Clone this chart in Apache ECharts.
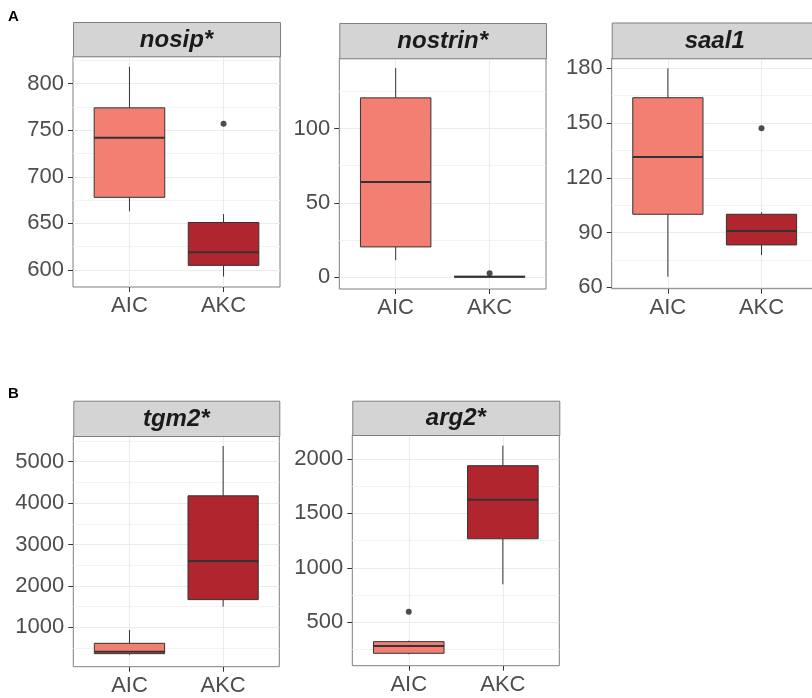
<!DOCTYPE html>
<html>
<head>
<meta charset="utf-8">
<script src="https://cdn.jsdelivr.net/npm/echarts@6/dist/echarts.min.js"></script>
<style>html,body{margin:0;padding:0;background:#fff}#c{width:812px;height:698px}</style>
</head>
<body>
<div id="c"></div>
<script>
// ---------- data ----------
const categories = ['AIC', 'AKC'];
const genes = ['nosip*', 'nostrin*', 'saal1', 'tgm2*', 'arg2*'];
// box stats: [lower whisker, Q1, median, Q3, upper whisker]
const nosipAIC = [663, 678, 742, 774, 818];
const nosipAKC = [593, 605, 619, 651, 660];
const nosipOutliers = [[2, 757]];
const nostrinAIC = [11.5, 20.4, 64.1, 120.6, 140.7];
const nostrinAKC = [0, 0.1, 0.3, 0.6, 0.9];
const nostrinOutliers = [[2, 2.7]];
const saal1AIC = [65.8, 100, 131.4, 163.9, 180];
const saal1AKC = [77.7, 83.2, 90.8, 100, 101.1];
const saal1Outliers = [[2, 147.1]];
const tgm2AIC = [335, 363, 411, 613, 935];
const tgm2AKC = [1498, 1668, 2600, 4176, 5379];
const tgm2Outliers = [];
const arg2AIC = [206, 215, 282, 322, 331];
const arg2AKC = [848, 1267, 1625, 1938, 2122];
const arg2Outliers = [[1, 597]];
// axis ranges and tick labels
const nosipRange = [581.8, 829.3];
const nosipTicks = [600, 650, 700, 750, 800];
const nosipMinor = [625, 675, 725, 775, 825];
const nostrinRange = [-7.9, 147.2];
const nostrinTicks = [0, 50, 100];
const nostrinMinor = [25, 75, 125];
const saal1Range = [59.2, 185.5];
const saal1Ticks = [60, 90, 120, 150, 180];
const saal1Minor = [75, 105, 135, 165];
const tgm2Range = [48, 5621];
const tgm2Ticks = [1000, 2000, 3000, 4000, 5000];
const tgm2Minor = [500, 1500, 2500, 3500, 4500, 5500];
const arg2Range = [101, 2220];
const arg2Ticks = [500, 1000, 1500, 2000];
const arg2Minor = [250, 750, 1250, 1750];

const groupColors = ['#F27F72', '#B0252E'];

// ---------- layout (styling only) ----------
const layout = [
  {left: 73, top: 56.3, width: 207, height: 230.7, stripTop: 22},
  {left: 339.3, top: 58.3, width: 206.7, height: 230.7, stripTop: 23},
  {left: 611.7, top: 58.3, width: 206, height: 230.4, stripTop: 22.5},
  {left: 73.3, top: 436, width: 206, height: 230.7, stripTop: 400.7},
  {left: 352.3, top: 435, width: 207, height: 230.7, stripTop: 400.7}
];

const panels = [
  {boxes: [nosipAIC, nosipAKC], out: nosipOutliers, range: nosipRange, ticks: nosipTicks, minor: nosipMinor},
  {boxes: [nostrinAIC, nostrinAKC], out: nostrinOutliers, range: nostrinRange, ticks: nostrinTicks, minor: nostrinMinor},
  {boxes: [saal1AIC, saal1AKC], out: saal1Outliers, range: saal1Range, ticks: saal1Ticks, minor: saal1Minor},
  {boxes: [tgm2AIC, tgm2AKC], out: tgm2Outliers, range: tgm2Range, ticks: tgm2Ticks, minor: tgm2Minor},
  {boxes: [arg2AIC, arg2AKC], out: arg2Outliers, range: arg2Range, ticks: arg2Ticks, minor: arg2Minor}
];

const FONT = '"Liberation Sans", Arial, sans-serif';
const grid = [], xAxis = [], yAxis = [], series = [], graphic = [];

panels.forEach((p, i) => {
  const L = layout[i];
  grid.push({left: L.left, top: L.top, width: L.width, height: L.height, show: true,
    backgroundColor: '#fff', borderColor: '#7f7f7f', borderWidth: 1, outerBoundsMode: 'none', containLabel: false, z: 0});
  const catPos = categories.map((c, k) => k + 1);
  xAxis.push({type: 'value', gridIndex: i, min: 0.4, max: 2.6,
    axisLine: {show: false, onZero: false},
    axisTick: {show: true, length: 5, customValues: catPos, lineStyle: {color: '#333'}},
    axisLabel: {show: true, customValues: catPos, margin: 8, fontSize: 22, fontFamily: FONT, color: '#4d4d4d',
      formatter: v => categories[Math.round(v) - 1] || ''},
    splitLine: {show: true, lineStyle: {color: '#ebebeb', width: 1}}
  });
  yAxis.push({type: 'value', gridIndex: i, min: p.range[0], max: p.range[1],
    axisLine: {show: false, onZero: false},
    axisTick: {show: true, length: 5, customValues: p.ticks, lineStyle: {color: '#333'}},
    axisLabel: {show: true, customValues: p.ticks, margin: 9, fontSize: 22, fontFamily: FONT, color: '#4d4d4d',
      formatter: v => String(v)},
    splitLine: {show: true, lineStyle: {color: '#ebebeb', width: 1}}
  });
  yAxis.push({type: 'value', gridIndex: i, min: p.range[0], max: p.range[1],
    axisLine: {show: false, onZero: false},
    axisTick: {show: false, customValues: p.minor},
    axisLabel: {show: false, customValues: p.minor},
    splitLine: {show: true, lineStyle: {color: '#f3f3f3', width: 1}}
  });
  series.push({
    type: 'custom', xAxisIndex: i, yAxisIndex: 2 * i, z: 5,
    data: p.boxes.map((b, k) => [k + 1].concat(b)),
    encode: {x: 0, y: [1, 2, 3, 4, 5]},
    renderItem: function (params, api) {
      const x = api.value(0);
      const vals = [1, 2, 3, 4, 5].map(d => api.value(d));
      const half = api.size([0.75, 0])[0] / 2;
      const pt = vals.map(v => api.coord([x, v]));
      const cx = pt[0][0];
      const color = groupColors[params.dataIndex];
      return {type: 'group', children: [
        {type: 'line', shape: {x1: cx, y1: pt[0][1], x2: cx, y2: pt[1][1]}, style: {stroke: '#333', lineWidth: 1}},
        {type: 'line', shape: {x1: cx, y1: pt[3][1], x2: cx, y2: pt[4][1]}, style: {stroke: '#333', lineWidth: 1}},
        {type: 'rect', shape: {x: cx - half, y: pt[3][1], width: 2 * half, height: pt[1][1] - pt[3][1]},
          style: {fill: color, stroke: '#333', lineWidth: 1}},
        {type: 'line', shape: {x1: cx - half, y1: pt[2][1], x2: cx + half, y2: pt[2][1]}, style: {stroke: '#333', lineWidth: 2}}
      ]};
    }
  });
  series.push({type: 'scatter', xAxisIndex: i, yAxisIndex: 2 * i, z: 6, data: p.out,
    symbolSize: 6, itemStyle: {color: '#222'}, silent: true});
  // strip
  const stripH = L.top - L.stripTop;
  graphic.push({type: 'rect', left: L.left, top: L.stripTop, z: 10,
    shape: {width: L.width, height: stripH},
    style: {fill: '#d3d4d3', stroke: '#7f7f7f', lineWidth: 1}});
  graphic.push({type: 'text', x: L.left + L.width / 2, y: L.stripTop + stripH / 2 + 1, z: 11,
    style: {text: genes[i], align: 'center', verticalAlign: 'middle',
      font: 'italic bold 24px ' + FONT, fill: '#1a1a1a'}});
});

graphic.push({type: 'text', x: 8, y: 9, style: {text: 'A', font: 'bold 15px ' + FONT, fill: '#000'}});
graphic.push({type: 'text', x: 8, y: 386, style: {text: 'B', font: 'bold 15px ' + FONT, fill: '#000'}});

const chart = echarts.init(document.getElementById('c'), null, {renderer: 'canvas'});
chart.setOption({animation: false, backgroundColor: '#fff', grid, xAxis, yAxis, series, graphic});
</script>
</body>
</html>
